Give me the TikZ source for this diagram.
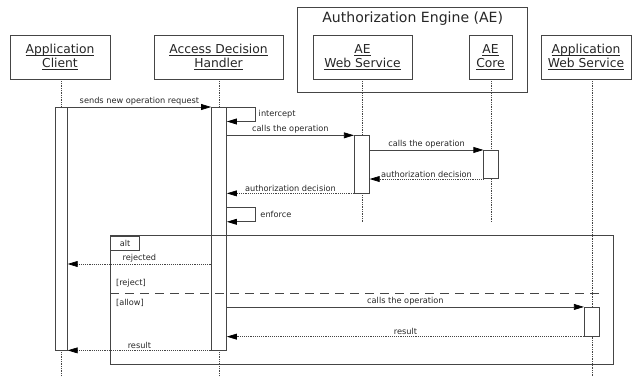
\documentclass[tikz,border=0pt]{standalone}
\usepackage{fontspec}
\setmainfont{DejaVu Sans}
\usetikzlibrary{arrows.meta}
\definecolor{linegray}{HTML}{454545}
\definecolor{textgray}{HTML}{262626}
\newcommand{\ulname}[1]{\underline{\smash{#1}}\vphantom{#1}}

\begin{document}
\begin{tikzpicture}[x=0.03cm, y=-0.03cm, line width=0.6pt, color=linegray, text=textgray,
    actor/.style={draw, fill=white, align=center, inner sep=0pt, minimum height=1.32cm,
      font=\fontsize{10.5}{12.2}\selectfont},
    act/.style={draw, fill=white, inner sep=0pt, minimum width=0.45cm},
    life/.style={densely dotted, line width=0.5pt},
    msg/.style={-{Triangle[length=8.5pt, width=5pt, color=black]}},
    reply/.style={msg, densely dotted},
    lbl/.style={font=\fontsize{7}{8}\selectfont, inner sep=1.2pt}]
  \useasboundingbox (0,0) rectangle (640,377);

  \node[draw, minimum width=6.9cm, minimum height=2.562cm] (engine) at (412.7,50) {};
  \node[font=\fontsize{12}{14}\selectfont] (enginetitle) at (412.7,18.5) {Authorization Engine (AE)};

  \node[actor, minimum width=3cm] (client) at (60,57) {\ulname{Application}\\\ulname{Client}};
  \node[actor, minimum width=3.87cm] (handler) at (218.5,57) {\ulname{Access Decision}\\\ulname{Handler}};
  \node[actor, minimum width=2.97cm] (aews) at (362.5,57) {\ulname{AE}\\\ulname{Web Service}};
  \node[actor, minimum width=1.29cm] (aecore) at (490.5,57) {\ulname{AE}\\\ulname{Core}};
  \node[actor, minimum width=2.7cm] (appws) at (586,57) {\ulname{Application}\\\ulname{Web Service}};

  \node[act, minimum width=0.36cm, minimum height=7.28cm] (clientact) at (61.3,228.7) {};
  \node[act, minimum height=7.28cm] (handleract) at (219,228.7) {};
  \node[act, minimum height=1.72cm] (aewsact) at (361.8,164.35) {};
  \node[act, minimum height=0.85cm] (aecoreact) at (491.3,164.5) {};
  \node[act, minimum height=0.87cm] (appwsact) at (591.8,321.8) {};

  \coordinate (aeend) at (0,221.7);
  \coordinate (bottom) at (0,377);
  \draw[life] (clientact.north |- client.south) -- (clientact.north);
  \draw[life] (clientact.south) -- (clientact.south |- bottom);
  \draw[life] (handleract.north |- handler.south) -- (handleract.north);
  \draw[life] (handleract.south) -- (handleract.south |- bottom);
  \draw[life] (aewsact.north |- aews.south) -- (aewsact.north);
  \draw[life] (aewsact.south) -- (aewsact.south |- aeend);
  \draw[life] (aecoreact.north |- aecore.south) -- (aecoreact.north);
  \draw[life] (aecoreact.south) -- (aecoreact.south |- aeend);
  \draw[life] (appwsact.north |- appws.south) -- (appwsact.north);
  \draw[life] (appwsact.south) -- (appwsact.south |- bottom);

  \draw[msg] (clientact.north east) -- node[lbl, above] {sends new operation request} (handleract.north west);
  \draw[msg] (handleract.north east) -- ++(28,0) -- node[lbl, right, inner sep=3pt] {intercept} ++(0,14.5) -- ++(-28,0);
  \draw[msg] (handleract.east |- aewsact.north) -- node[lbl, above] {calls the operation} (aewsact.north west);
  \draw[msg] (aewsact.east |- aecoreact.north) -- node[lbl, above] {calls the operation} (aecoreact.north west);
  \draw[reply] (aecoreact.south west) -- node[lbl, above] {authorization decision} (aewsact.east |- aecoreact.south);
  \draw[reply] (aewsact.south west) -- node[lbl, above] {authorization decision} (handleract.east |- aewsact.south);
  \coordinate (enforce) at (handleract.east |- 0,207.3);
  \draw[msg] (enforce) -- ++(28,0) -- node[lbl, right, inner sep=4.5pt] {enforce} ++(0,14.5) -- ++(-28,0);

  \draw (110.3,235.7) rectangle (613.3,364.3);
  \node[draw, lbl, anchor=north west, minimum width=0.87cm, minimum height=0.44cm] (alttab) at (110.3,235.7) {alt};
  \draw[dash pattern=on 7.7pt off 5.1pt] (110.3,293) -- (605,293);
  \node[lbl, anchor=west] (rejectguard) at (114.3,283.3) {[reject]};
  \node[lbl, anchor=west] (allowguard) at (114.3,302.7) {[allow]};

  \coordinate (rejected) at (handleract.west |- 0,264);
  \draw[reply] (rejected) -- node[lbl, above] {rejected} (clientact.east |- rejected);
  \draw[msg] (handleract.east |- appwsact.north) -- node[lbl, above] {calls the operation} (appwsact.north west);
  \draw[reply] (appwsact.south west) -- node[lbl, above] {result} (handleract.east |- appwsact.south);
  \draw[reply] (handleract.south west) -- node[lbl, above] {result} (clientact.south east);
\end{tikzpicture}
\end{document}
